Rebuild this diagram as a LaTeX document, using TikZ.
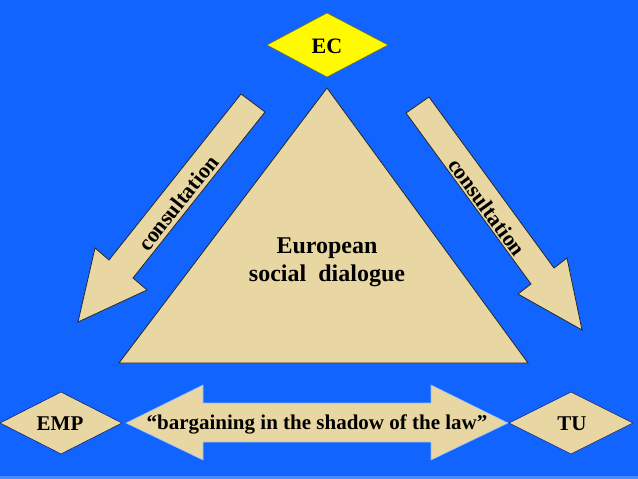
\documentclass[tikz,border=0pt]{standalone}
\usepackage{fontspec}
\setmainfont{Liberation Serif}
\begin{document}
\begin{tikzpicture}[x=1pt,y=-1pt,
  papyrus/.style={fill=papy},
  lbl/.style={font=\bfseries\fontsize{21}{25}\selectfont, text=black, inner sep=0pt},
  dia/.style={fill=papy, draw=navy, line width=0.6pt}]
\definecolor{bg}{RGB}{18,100,255}
\definecolor{bgl}{RGB}{70,140,255}
\definecolor{papy}{RGB}{233,215,163}
\definecolor{navy}{RGB}{20,30,110}
\definecolor{ecy}{RGB}{255,250,0}
\fill[bg] (0,0) rectangle (638,479);
\fill[bgl] (0,476) rectangle (638,479);
\useasboundingbox (0,0) rectangle (638,479);

% triangle
\draw[papyrus, draw=black!85, line width=0.8pt] (327,88) -- (528,363) -- (119,363) -- cycle;

% EC diamond
\draw[fill=ecy, draw=black!55!ecy, line width=0.5pt] (267,45) -- (327,13) -- (388,45) -- (327,77) -- cycle;
\node[lbl, font=\bfseries\fontsize{22}{26}\selectfont] (ec) at (327,46) {EC};

% left arrow
\draw[papyrus, draw=black!85, line width=0.8pt, line join=miter]
  (241,94) -- (265,112) -- (133,278) -- (147,290) -- (78,322) -- (95,248) -- (109,260) -- cycle;
\node[lbl, font=\bfseries\fontsize{22}{26}\selectfont, rotate=51.4] (cl) at (178,203) {consultation};

% right arrow
\draw[papyrus, draw=black!85, line width=0.8pt, line join=miter]
  (406,113) -- (429,97) -- (554,268) -- (567,258) -- (582,330) -- (518,294) -- (531,284) -- cycle;
\node[lbl, font=\bfseries\fontsize{22}{26}\selectfont, rotate=-53.8] (cr) at (487,207) {consultation};

% centre text
\node[lbl, font=\bfseries\fontsize{24}{28}\selectfont, align=center] (esd) at (327,262) {European\\social\ \ dialogue};

% bottom double arrow
\draw[papyrus, draw=bgl!60!white, line width=0.6pt]
  (126,423) -- (203,385) -- (203,403) -- (431,403) -- (431,385) -- (508,423)
  -- (431,460) -- (431,442) -- (203,442) -- (203,460) -- cycle;
\node[lbl] (barg) at (317,424) {``bargaining in the shadow of the law''};

% EMP, TU diamonds
\draw[dia] (0,423) -- (61,392) -- (122,423) -- (61,454) -- cycle;
\node[lbl] (emp) at (60,424) {EMP};
\draw[dia] (509,423) -- (571,392) -- (633,423) -- (571,454) -- cycle;
\node[lbl] (tu) at (572,424) {TU};
\end{tikzpicture}
\end{document}
